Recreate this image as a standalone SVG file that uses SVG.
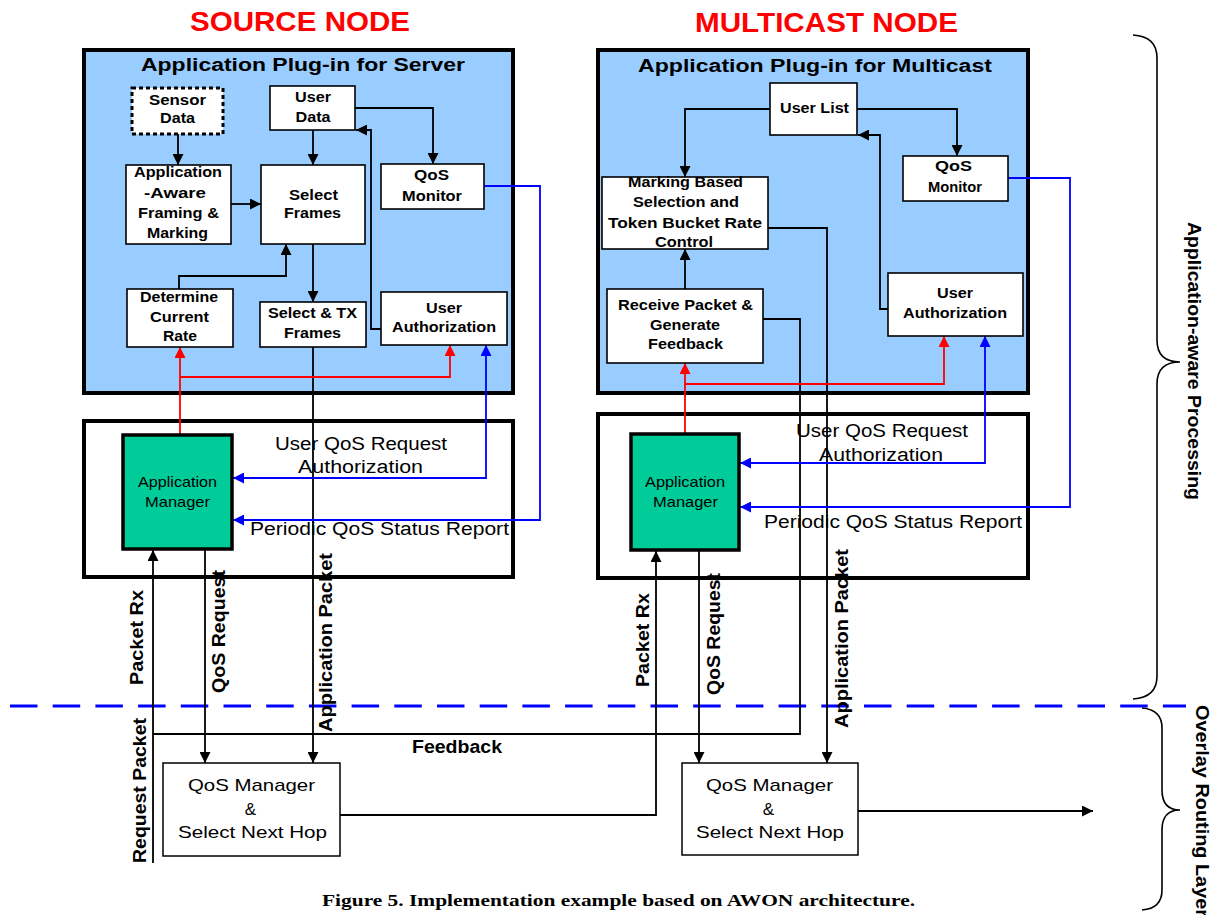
<svg xmlns="http://www.w3.org/2000/svg" width="1217" height="915" viewBox="0 0 1217 915">
  <style>
    text { font-family: "Liberation Sans", Arial, sans-serif; fill: #000; }
    .title { font-size: 28px; font-weight: bold; fill: #FF0000; text-anchor: middle; }
    .hdr { font-size: 18px; font-weight: bold; text-anchor: middle; }
    .bx { font-size: 14px; font-weight: bold; text-anchor: middle; }
    .lbl { font-size: 18px; text-anchor: middle; }
    .mgr { font-size: 15px; text-anchor: middle; }
    .qm { font-size: 17px; text-anchor: middle; }
    .vl { font-size: 18px; font-weight: bold; text-anchor: middle; }
    .side { font-size: 18px; font-weight: bold; }
    .cap { font-family: "Liberation Serif", "Times New Roman", serif; font-size: 17px; font-weight: bold; text-anchor: middle; }
    .plug { fill: #99CCFF; stroke: #000; stroke-width: 4; }
    .outer { fill: #FFFFFF; stroke: #000; stroke-width: 4; }
    .box { fill: #FFFFFF; stroke: #000; stroke-width: 1.6; }
    .dash { fill: #FFFFFF; stroke: #000; stroke-width: 3; stroke-dasharray: 4 3; }
    .am { fill: #00CC99; stroke: #000; stroke-width: 3.5; }
    .qbox { fill: #FFFFFF; stroke: #000; stroke-width: 1.5; }
    .k { fill: none; stroke: #000; stroke-width: 1.8; }
    .r { fill: none; stroke: #FF0000; stroke-width: 1.8; }
    .b { fill: none; stroke: #0000FF; stroke-width: 1.8; }
    .brace { fill: none; stroke: #000; stroke-width: 1.6; }
  </style>
  <defs>
    <marker id="ak" markerUnits="userSpaceOnUse" markerWidth="12" markerHeight="11" refX="11" refY="5.5" orient="auto-start-reverse">
      <path d="M0,0 L11,5.5 L0,11 z" fill="#000"/>
    </marker>
    <marker id="ar" markerUnits="userSpaceOnUse" markerWidth="12" markerHeight="11" refX="11" refY="5.5" orient="auto-start-reverse">
      <path d="M0,0 L11,5.5 L0,11 z" fill="#FF0000"/>
    </marker>
    <marker id="ab" markerUnits="userSpaceOnUse" markerWidth="12" markerHeight="11" refX="11" refY="5.5" orient="auto-start-reverse">
      <path d="M0,0 L11,5.5 L0,11 z" fill="#0000FF"/>
    </marker>
  </defs>

  <rect width="1217" height="915" fill="#FFFFFF"/>

  <!-- Node titles -->
  <text class="title" x="300" y="31" textLength="220" lengthAdjust="spacingAndGlyphs">SOURCE NODE</text>
  <text class="title" x="826.5" y="32" textLength="263" lengthAdjust="spacingAndGlyphs">MULTICAST NODE</text>

  <!-- Source node containers -->
  <g id="src-plugin">
    <rect class="plug" x="84" y="50" width="429" height="343"/>
    <text class="hdr" x="303" y="71" textLength="324" lengthAdjust="spacingAndGlyphs">Application Plug-in for Server</text>
  </g>
  <g id="src-control">
    <rect class="outer" x="84" y="421" width="429" height="156"/>
    <text class="lbl" x="361" y="450" textLength="172" lengthAdjust="spacingAndGlyphs">User QoS Request</text>
    <text class="lbl" x="360.5" y="473" textLength="125" lengthAdjust="spacingAndGlyphs">Authorization</text>
    <text class="lbl" x="379.5" y="535" textLength="259" lengthAdjust="spacingAndGlyphs">Periodic QoS Status Report</text>
  </g>

  <!-- Multicast node containers -->
  <g id="mc-plugin">
    <rect class="plug" x="598" y="50" width="430" height="343"/>
    <text class="hdr" x="815" y="72" textLength="354" lengthAdjust="spacingAndGlyphs">Application Plug-in for Multicast</text>
  </g>
  <g id="mc-control">
    <rect class="outer" x="598" y="414" width="430" height="164"/>
    <text class="lbl" x="882" y="437" textLength="172" lengthAdjust="spacingAndGlyphs">User QoS Request</text>
    <text class="lbl" x="881" y="461" textLength="124" lengthAdjust="spacingAndGlyphs">Authorization</text>
    <text class="lbl" x="893" y="528" textLength="258" lengthAdjust="spacingAndGlyphs">Periodic QoS Status Report</text>
  </g>

  <!-- Layer separator -->
  <line x1="10" y1="706" x2="1186" y2="706" stroke="#0000FF" stroke-width="3" stroke-dasharray="27.5 15.2"/>

  <!-- Connectors -->
  <g id="connectors">
    <!-- source plug-in -->
    <path class="k" d="M178,134 V165" marker-end="url(#ak)"/>
    <path class="k" d="M313,130 V165" marker-end="url(#ak)"/>
    <path class="k" d="M231,204 H261" marker-end="url(#ak)"/>
    <path class="k" d="M355,108 H433 V164" marker-end="url(#ak)"/>
    <path class="k" d="M381,329 H371 V130 H356" marker-end="url(#ak)"/>
    <path class="k" d="M179,289 V276 H286 V244" marker-end="url(#ak)"/>
    <path class="k" d="M313,244 V302" marker-end="url(#ak)"/>
    <path class="k" d="M313,347 V763" marker-end="url(#ak)"/>
    <path class="r" d="M180,435 V347" marker-end="url(#ar)"/>
    <path class="r" d="M180,377 H450 V345" marker-end="url(#ar)"/>
    <path class="b" d="M486,345 V478 H233" marker-start="url(#ab)" marker-end="url(#ab)"/>
    <path class="b" d="M484,186 H540 V520 H233" marker-end="url(#ab)"/>
    <!-- source routing -->
    <path class="k" d="M153,863 V550" marker-end="url(#ak)"/>
    <path class="k" d="M205,550 V763" marker-end="url(#ak)"/>
    <path class="k" d="M340,815 H656 V551" marker-end="url(#ak)"/>
    <!-- multicast plug-in -->
    <path class="k" d="M770,109 H685 V177" marker-end="url(#ak)"/>
    <path class="k" d="M857,109 H957 V156" marker-end="url(#ak)"/>
    <path class="k" d="M888,309 H880 V135 H858" marker-end="url(#ak)"/>
    <path class="k" d="M685,289 V249" marker-end="url(#ak)"/>
    <path class="k" d="M768,228 H827 V763" marker-end="url(#ak)"/>
    <path class="k" d="M763,319 H800 V734 H153"/>
    <path class="r" d="M685,434 V363" marker-end="url(#ar)"/>
    <path class="r" d="M685,384 H944 V336" marker-end="url(#ar)"/>
    <path class="b" d="M985,336 V463 H740" marker-start="url(#ab)" marker-end="url(#ab)"/>
    <path class="b" d="M1008,178 H1070 V507 H740" marker-end="url(#ab)"/>
    <!-- multicast routing -->
    <path class="k" d="M699,551 V763" marker-end="url(#ak)"/>
    <path class="k" d="M858,811 H1093" marker-end="url(#ak)"/>
  </g>

  <!-- Source plug-in blocks -->
  <g id="sensor-data">
    <rect class="dash" x="132" y="88" width="91" height="46"/>
    <text class="bx" x="177.5" y="105" textLength="57" lengthAdjust="spacingAndGlyphs">Sensor</text>
    <text class="bx" x="177.5" y="123" textLength="35" lengthAdjust="spacingAndGlyphs">Data</text>
  </g>
  <g id="user-data">
    <rect class="box" x="270" y="86" width="85" height="44"/>
    <text class="bx" x="313" y="102" textLength="36" lengthAdjust="spacingAndGlyphs">User</text>
    <text class="bx" x="313" y="122" textLength="35" lengthAdjust="spacingAndGlyphs">Data</text>
  </g>
  <g id="framing-marking">
    <rect class="box" x="126" y="165" width="105" height="79"/>
    <text class="bx" x="178" y="177" textLength="88" lengthAdjust="spacingAndGlyphs">Application</text>
    <text class="bx" x="175" y="198" textLength="62" lengthAdjust="spacingAndGlyphs">-Aware</text>
    <text class="bx" x="178.5" y="218" textLength="81" lengthAdjust="spacingAndGlyphs">Framing &amp;</text>
    <text class="bx" x="177.5" y="238" textLength="61" lengthAdjust="spacingAndGlyphs">Marking</text>
  </g>
  <g id="select-frames">
    <rect class="box" x="261" y="165" width="104" height="79"/>
    <text class="bx" x="313.5" y="200" textLength="49" lengthAdjust="spacingAndGlyphs">Select</text>
    <text class="bx" x="312.5" y="218" textLength="57" lengthAdjust="spacingAndGlyphs">Frames</text>
  </g>
  <g id="src-qos-monitor">
    <rect class="box" x="381" y="164" width="103" height="45"/>
    <text class="bx" x="431.5" y="180" textLength="35" lengthAdjust="spacingAndGlyphs">QoS</text>
    <text class="bx" x="432" y="201" textLength="60" lengthAdjust="spacingAndGlyphs">Monitor</text>
  </g>
  <g id="determine-rate">
    <rect class="box" x="127" y="289" width="106" height="58"/>
    <text class="bx" x="179" y="302" textLength="78" lengthAdjust="spacingAndGlyphs">Determine</text>
    <text class="bx" x="179.5" y="322" textLength="59" lengthAdjust="spacingAndGlyphs">Current</text>
    <text class="bx" x="180" y="341" textLength="34" lengthAdjust="spacingAndGlyphs">Rate</text>
  </g>
  <g id="select-tx">
    <rect class="box" x="260" y="302" width="106" height="45"/>
    <text class="bx" x="312.5" y="318" textLength="89" lengthAdjust="spacingAndGlyphs">Select &amp; TX</text>
    <text class="bx" x="312.5" y="338" textLength="57" lengthAdjust="spacingAndGlyphs">Frames</text>
  </g>
  <g id="src-user-auth">
    <rect class="box" x="381" y="292" width="126" height="53"/>
    <text class="bx" x="444" y="313" textLength="36" lengthAdjust="spacingAndGlyphs">User</text>
    <text class="bx" x="444" y="332" textLength="104" lengthAdjust="spacingAndGlyphs">Authorization</text>
  </g>
  <g id="src-app-manager">
    <rect class="am" x="123" y="435" width="109" height="114"/>
    <text class="mgr" x="177.5" y="487" textLength="79" lengthAdjust="spacingAndGlyphs">Application</text>
    <text class="mgr" x="177.5" y="507" textLength="65" lengthAdjust="spacingAndGlyphs">Manager</text>
  </g>
  <g id="src-qos-manager">
    <rect class="qbox" x="163" y="763" width="177" height="93"/>
    <text class="qm" x="251.5" y="791" textLength="127" lengthAdjust="spacingAndGlyphs">QoS Manager</text>
    <text class="qm" x="250.5" y="815">&amp;</text>
    <text class="qm" x="252.5" y="838" textLength="149" lengthAdjust="spacingAndGlyphs">Select Next Hop</text>
  </g>

  <!-- Multicast plug-in blocks -->
  <g id="user-list">
    <rect class="box" x="770" y="83" width="87" height="52"/>
    <text class="bx" x="814.5" y="113" textLength="69" lengthAdjust="spacingAndGlyphs">User List</text>
  </g>
  <g id="mc-qos-monitor">
    <rect class="box" x="903" y="156" width="105" height="45"/>
    <text class="bx" x="953.5" y="171" textLength="37" lengthAdjust="spacingAndGlyphs">QoS</text>
    <text class="bx" x="955" y="192" textLength="54" lengthAdjust="spacingAndGlyphs">Monitor</text>
  </g>
  <g id="marking-selection">
    <rect class="box" x="602" y="177" width="166" height="72"/>
    <text class="bx" x="685.5" y="187" textLength="115" lengthAdjust="spacingAndGlyphs">Marking Based</text>
    <text class="bx" x="686" y="207" textLength="106" lengthAdjust="spacingAndGlyphs">Selection and</text>
    <text class="bx" x="685" y="228" textLength="154" lengthAdjust="spacingAndGlyphs">Token Bucket Rate</text>
    <text class="bx" x="684" y="247" textLength="58" lengthAdjust="spacingAndGlyphs">Control</text>
  </g>
  <g id="receive-feedback">
    <rect class="box" x="607" y="289" width="156" height="74"/>
    <text class="bx" x="685.5" y="310" textLength="135" lengthAdjust="spacingAndGlyphs">Receive Packet &amp;</text>
    <text class="bx" x="685" y="330" textLength="70" lengthAdjust="spacingAndGlyphs">Generate</text>
    <text class="bx" x="685.5" y="349" textLength="75" lengthAdjust="spacingAndGlyphs">Feedback</text>
  </g>
  <g id="mc-user-auth">
    <rect class="box" x="888" y="273" width="135" height="63"/>
    <text class="bx" x="955" y="298" textLength="36" lengthAdjust="spacingAndGlyphs">User</text>
    <text class="bx" x="955" y="318" textLength="104" lengthAdjust="spacingAndGlyphs">Authorization</text>
  </g>
  <g id="mc-app-manager">
    <rect class="am" x="631" y="434" width="108" height="116"/>
    <text class="mgr" x="685" y="487" textLength="80" lengthAdjust="spacingAndGlyphs">Application</text>
    <text class="mgr" x="685.5" y="507" textLength="65" lengthAdjust="spacingAndGlyphs">Manager</text>
  </g>
  <g id="mc-qos-manager">
    <rect class="qbox" x="682" y="763" width="176" height="92"/>
    <text class="qm" x="769.5" y="791" textLength="127" lengthAdjust="spacingAndGlyphs">QoS Manager</text>
    <text class="qm" x="768.5" y="815">&amp;</text>
    <text class="qm" x="770" y="838" textLength="148" lengthAdjust="spacingAndGlyphs">Select Next Hop</text>
  </g>

  <!-- Connector labels -->
  <g id="labels">
    <text class="vl" transform="translate(143,637.5) rotate(-90)" textLength="95" lengthAdjust="spacingAndGlyphs">Packet Rx</text>
    <text class="vl" transform="translate(225,631.5) rotate(-90)" textLength="123" lengthAdjust="spacingAndGlyphs">QoS Request</text>
    <text class="vl" transform="translate(332,642.5) rotate(-90)" textLength="179" lengthAdjust="spacingAndGlyphs">Application Packet</text>
    <text class="vl" transform="translate(146,790.5) rotate(-90)" textLength="145" lengthAdjust="spacingAndGlyphs">Request Packet</text>
    <text class="vl" x="457" y="753" textLength="90" lengthAdjust="spacingAndGlyphs">Feedback</text>
    <text class="vl" transform="translate(649,640) rotate(-90)" textLength="94" lengthAdjust="spacingAndGlyphs">Packet Rx</text>
    <text class="vl" transform="translate(720,634) rotate(-90)" textLength="122" lengthAdjust="spacingAndGlyphs">QoS Request</text>
    <text class="vl" transform="translate(848,638.5) rotate(-90)" textLength="179" lengthAdjust="spacingAndGlyphs">Application Packet</text>
  </g>

  <!-- Layer braces -->
  <g id="layer-braces">
    <path class="brace" d="M1133,35 C1150,36 1157,44 1157,58 V340 C1157,355 1165,362 1180,362 C1165,362 1157,369 1157,384 V676 C1157,690 1150,698 1133,699"/>
    <path class="brace" d="M1142,708 C1155,709 1162,716 1162,728 V790 C1162,803 1168,810 1180,810 C1168,810 1162,817 1162,830 V890 C1162,902 1155,909 1142,910"/>
    <text class="side" text-anchor="middle" transform="translate(1188,361) rotate(90)" textLength="278" lengthAdjust="spacingAndGlyphs">Application-aware Processing</text>
    <text class="side" transform="translate(1196,705) rotate(90)" textLength="212" lengthAdjust="spacingAndGlyphs">Overlay Routing Layer</text>
  </g>

  <text class="cap" x="618.5" y="906" textLength="593" lengthAdjust="spacingAndGlyphs">Figure 5. Implementation example based on AWON architecture.</text>
</svg>
